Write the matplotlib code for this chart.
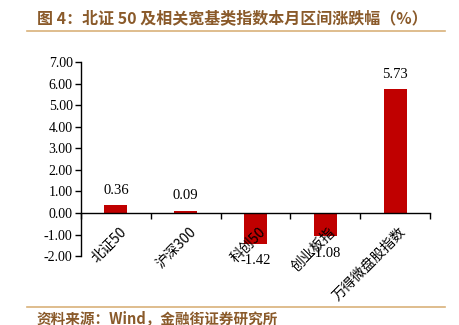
import matplotlib
matplotlib.use("Agg")
import matplotlib.pyplot as plt
import numpy as np
from matplotlib.lines import Line2D

plt.rcParams['font.family'] = ['Liberation Serif', 'Noto Sans CJK SC', 'DejaVu Sans']

# 本月区间涨跌幅 (%)
names = ['北证50', '沪深300', '科创50', '创业板指', '万得微盘股指数']
changes = [0.36, 0.09, -1.42, -1.08, 5.73]
yticks = [-2, -1, 0, 1, 2, 3, 4, 5, 6, 7]

title_color = '#8A5A2A'
rule_color = '#D9B27A'
bar_color = '#C00000'

fig = plt.figure(figsize=(4.6, 3.25), dpi=100)
ax = fig.add_axes([0.176, 0.212, 0.759, 0.597])

x = np.arange(len(names))
ax.bar(x, changes, width=0.33, color=bar_color, zorder=2)

# value labels above positive bars, below negative ones
for xi, v in zip(x, changes):
    if v >= 0:
        ax.text(xi, v + 0.4, f'{v:.2f}', ha='center', va='bottom', fontsize=10.5)
    else:
        ax.text(xi, v - 0.5, f'{v:.2f}', ha='center', va='top', fontsize=10.5)

ax.set_xlim(-0.5, len(names) - 0.5)
ax.set_ylim(-2, 7)
ax.set_yticks(yticks)
ax.set_yticklabels([f'{t:.2f}' for t in yticks], fontsize=10)

# category boundary ticks on the zero line
ax.set_xticks(np.arange(-0.5, len(names)), minor=False)
ax.set_xticklabels([])
ax.tick_params(axis='x', direction='out', length=4, width=1)
ax.tick_params(axis='y', direction='out', length=4, width=1, pad=2)
for xi, name in zip(x, names):
    ax.text(xi + 0.05, -0.55, name, rotation=45, ha='right', va='top',
            rotation_mode='anchor', fontsize=10,
            family=['Noto Sans CJK SC', 'Liberation Serif'])

ax.spines['top'].set_visible(False)
ax.spines['right'].set_visible(False)
ax.spines['bottom'].set_position(('data', 0))
ax.spines['bottom'].set_zorder(3)
ax.spines['left'].set_linewidth(1)
ax.spines['bottom'].set_linewidth(1)

# header and footer
fig.text(0.08, 0.945, '图 4：北证 50 及相关宽基类指数本月区间涨跌幅（%）',
         fontsize=11.5, fontweight='bold', color=title_color, va='center',
         family=['Noto Sans CJK SC', 'DejaVu Sans'])
fig.add_artist(Line2D([0.058, 0.968], [0.905, 0.905], color=rule_color, lw=1.2))
fig.add_artist(Line2D([0.058, 0.968], [0.055, 0.055], color=rule_color, lw=1.2))
fig.text(0.08, 0.022, '资料来源：Wind，金融街证券研究所',
         fontsize=10.5, fontweight='bold', color=title_color, va='center',
         family=['Noto Sans CJK SC', 'DejaVu Sans'])

fig.savefig('out.png', dpi=100)
